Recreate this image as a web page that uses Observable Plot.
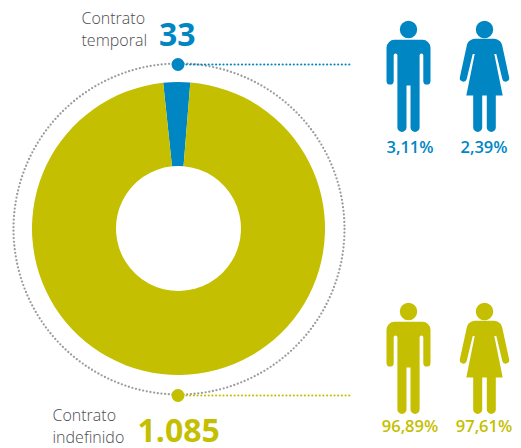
<!DOCTYPE html>
<html lang="es">
<head>
<meta charset="utf-8">
<style>html,body{margin:0;padding:0;background:#fff}svg{display:block}</style>
<script src="https://cdn.jsdelivr.net/npm/d3@7"></script>
<script src="https://cdn.jsdelivr.net/npm/@observablehq/plot@0.6"></script>
</head>
<body>
<script>
// Data
const contracts = ["Contrato temporal", "Contrato indefinido"];
const contractValues = [33, 1085];
const contractLabels = ["33", "1.085"];
const manShares = ["3,11%", "96,89%"];
const womanShares = ["2,39%", "97,61%"];

// Styles
const BLUE = "#0086c3", OLIVE = "#c4bf00", GREY = "#4d4d4f", RING = "#9a9c9f";
const colors = [BLUE, OLIVE];
const FONT = "'Open Sans', sans-serif";

// Layout
const W = 521, H = 448;
const cx = 178.5, cy = 228.5, rOuter = 146.5, rInner = 62.5, rRing = 165.5;
const startDeg = -6;
const markerY = [64, 395];
const figureY = [29, 311];
const manX = 408, womanX = 484;

// Pictograms, drawn from the head centre
function head(c) { c.moveTo(8.7, 0); c.arc(0, 0, 8.7, 0, 2 * Math.PI); c.closePath(); }
const man = {draw(c) {
  head(c);
  c.moveTo(-14, 10.3);
  c.lineTo(14, 10.3);
  c.arc(14, 18.3, 8, -Math.PI / 2, 0);
  c.lineTo(22, 51.4);
  c.arc(18.4, 51.4, 3.6, 0, Math.PI);
  c.lineTo(14.8, 25.8);
  c.arc(12.95, 25.8, 1.85, 0, -Math.PI, true);
  c.lineTo(11.1, 97.9);
  c.arc(6.55, 97.9, 4.55, 0, Math.PI);
  c.lineTo(2, 56);
  c.lineTo(-2, 56);
  c.lineTo(-2, 97.9);
  c.arc(-6.55, 97.9, 4.55, 0, Math.PI);
  c.lineTo(-11.1, 25.8);
  c.arc(-12.95, 25.8, 1.85, 0, -Math.PI, true);
  c.lineTo(-14.8, 51.4);
  c.arc(-18.4, 51.4, 3.6, 0, Math.PI);
  c.lineTo(-22, 18.3);
  c.arc(-14, 18.3, 8, Math.PI, 1.5 * Math.PI);
  c.closePath();
}};
const woman = {draw(c) {
  head(c);
  c.moveTo(-8, 9.3);
  c.lineTo(8, 9.3);
  c.bezierCurveTo(12.5, 9.3, 16.4, 11, 17.6, 15.5);
  c.lineTo(24.6, 47.8);
  c.arc(21.2, 48.6, 3.5, -0.23, 2.9);
  c.lineTo(11.8, 24.5);
  c.lineTo(9.8, 24.5);
  c.lineTo(18.2, 66);
  c.lineTo(11.3, 66);
  c.lineTo(11.3, 97.9);
  c.arc(6.8, 97.9, 4.5, 0, Math.PI);
  c.lineTo(2.3, 66);
  c.lineTo(-2.3, 66);
  c.lineTo(-2.3, 97.9);
  c.arc(-6.8, 97.9, 4.5, 0, Math.PI);
  c.lineTo(-11.3, 66);
  c.lineTo(-18.2, 66);
  c.lineTo(-9.8, 24.5);
  c.lineTo(-11.8, 24.5);
  c.lineTo(-17.8, 49.4);
  c.arc(-21.2, 48.6, 3.5, Math.PI - 2.9, Math.PI + 0.23);
  c.lineTo(-17.6, 15.5);
  c.bezierCurveTo(-16.4, 11, -12.5, 9.3, -8, 9.3);
  c.closePath();
}};

// Donut: slices come straight from contractValues
function donut(index, scales) {
  const g = d3.create("svg:g").attr("transform", `translate(${scales.x(cx)},${scales.y(cy)})`);
  const start = startDeg * Math.PI / 180;
  const pie = d3.pie().sort(null).startAngle(start).endAngle(start + 2 * Math.PI);
  const arc = d3.arc().innerRadius(rInner).outerRadius(rOuter);
  g.selectAll("path").data(pie(contractValues)).join("path")
    .attr("d", arc).attr("fill", (d, i) => colors[i]);
  return g.node();
}

const idx = [0, 1];
const textOpts = {textAnchor: "start", fontFamily: FONT, lineAnchor: "bottom"};
const pctOpts = {fill: i => colors[i], fontSize: 16.5, fontWeight: 600, fontFamily: FONT, lineAnchor: "bottom"};

const chart = Plot.plot({
  width: W, height: H, margin: 0,
  x: {domain: [0, W], range: [0, W], axis: null},
  y: {domain: [0, H], range: [0, H], axis: null},
  style: {background: "#fff", fontFamily: FONT},
  marks: [
    Plot.dot([0], {x: () => cx, y: () => cy, r: rRing, stroke: RING, fill: "none",
      strokeWidth: 2.3, strokeDasharray: "0 3.7", strokeLinecap: "round"}),
    donut,
    Plot.ruleY(idx, {y: i => markerY[i], x1: () => cx + 8, x2: () => 352, stroke: i => colors[i],
      strokeWidth: 2.2, strokeDasharray: "0 3.7", strokeLinecap: "round"}),
    Plot.dot(idx, {x: () => cx - 1, y: i => markerY[i], r: 6.5, fill: i => colors[i]}),
    Plot.dot(idx, {x: () => manX, y: i => figureY[i], r: 1, symbol: () => man, fill: i => colors[i]}),
    Plot.dot(idx, {x: () => womanX, y: i => figureY[i], r: 1, symbol: () => woman, fill: i => colors[i]}),
    Plot.text(idx, {x: () => manX + 1.5, y: i => [152, 431][i], text: i => manShares[i], ...pctOpts}),
    Plot.text(idx, {x: () => womanX - 0.5, y: i => [152, 431][i], text: i => womanShares[i], ...pctOpts}),
    Plot.text(["Contrato", "temporal"], {x: () => 81, y: (d, i) => [23, 45][i], text: d => d,
      ...textOpts, fill: GREY, fontSize: 16, fontWeight: 300}),
    Plot.text(["Contrato", "indefinido"], {x: () => 52, y: (d, i) => [420.5, 442.5][i], text: d => d,
      ...textOpts, fill: GREY, fontSize: 16, fontWeight: 300}),
    Plot.text(idx, {x: i => [158.5, 137][i], y: i => [45, 441][i], text: i => contractLabels[i],
      ...textOpts, fill: i => colors[i], fontSize: 32, fontWeight: 700})
  ]
});
document.body.append(chart);
</script>
</body>
</html>
